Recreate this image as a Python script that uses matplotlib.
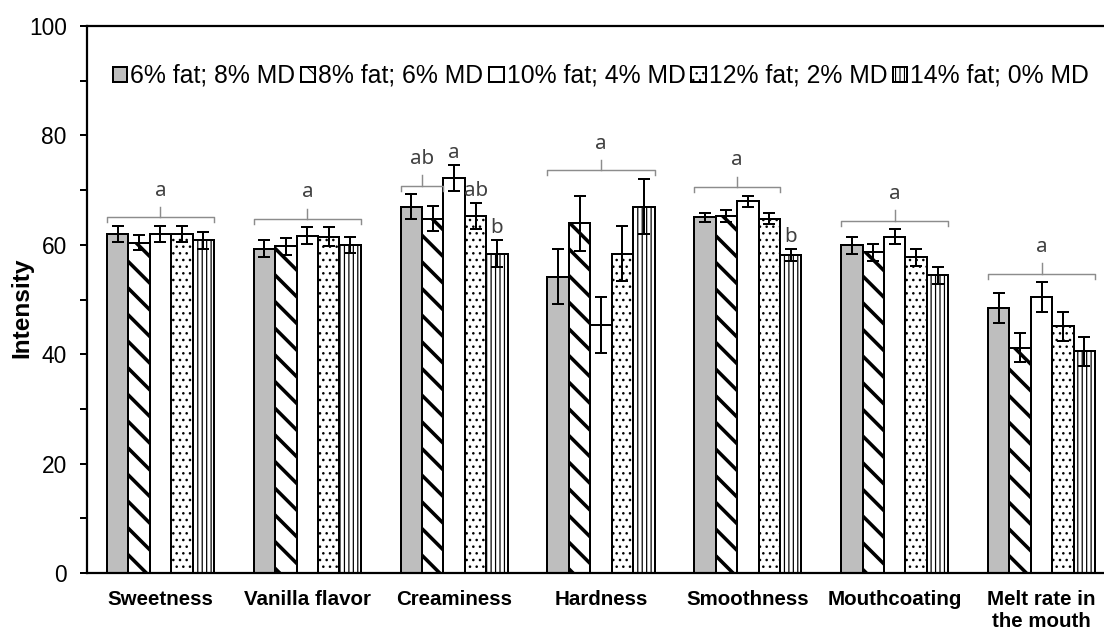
import numpy as np
import matplotlib
matplotlib.use("Agg")
import matplotlib.pyplot as plt

plt.rcParams["font.family"] = ["Liberation Sans", "DejaVu Sans"]

# --- data ---
attributes = ["Sweetness", "Vanilla flavor", "Creaminess", "Hardness",
              "Smoothness", "Mouthcoating", "Melt rate in\nthe mouth"]
formulations = ["6% fat; 8% MD", "8% fat; 6% MD", "10% fat; 4% MD",
                "12% fat; 2% MD", "14% fat; 0% MD"]

fat6 = [62.0, 59.3, 67.0, 54.2, 65.0, 59.9, 48.4]
fat8 = [60.4, 59.7, 64.8, 63.9, 65.2, 58.6, 41.2]
fat10 = [62.0, 61.7, 72.2, 45.4, 68.0, 61.5, 50.5]
fat12 = [62.0, 61.5, 65.2, 58.4, 64.8, 57.7, 45.1]
fat14 = [60.8, 60.0, 58.4, 67.0, 58.2, 54.4, 40.5]

err6 = [1.5, 1.6, 2.3, 5.1, 0.9, 1.5, 2.7]
err8 = [1.4, 1.5, 2.3, 5.0, 1.1, 1.5, 2.7]
err10 = [1.5, 1.5, 2.3, 5.1, 1.0, 1.4, 2.7]
err12 = [1.5, 1.7, 2.4, 5.1, 1.0, 1.5, 2.7]
err14 = [1.5, 1.5, 2.4, 5.1, 1.1, 1.5, 2.7]

# (attribute, first bar, last bar, letter)
brackets = [(0, 0, 4, "a"), (1, 0, 4, "a"), (2, 0, 1, "ab"), (3, 0, 4, "a"),
            (4, 0, 3, "a"), (5, 0, 4, "a"), (6, 0, 4, "a")]
# (attribute, bar, letter)
single_letters = [(2, 2, "a"), (2, 3, "ab"), (2, 4, "b"), (4, 4, "b")]

means = [fat6, fat8, fat10, fat12, fat14]
errs = [err6, err8, err10, err12, err14]

# --- styling ---
fills = ["#BEBEBE", "white", "white", "white", "white"]
hatches = [None, "\\", None, "..", "|||"]
hatch_lws = [1.0, 3.2, 1.0, 1.1, 1.1]
LETTER_COLOR = "#404040"
BRACKET_COLOR = "#8C8C8C"

fig = plt.figure(figsize=(13.8, 7.9), dpi=80)
ax = fig.add_axes([87 / 1104, 59 / 632, 1028 / 1104, 547 / 632])

x = np.arange(len(attributes))
w = 0.146

for i in range(len(formulations)):
    pos = x + (i - 2) * w
    bars = ax.bar(pos, means[i], w, color=fills[i], edgecolor="black",
                  linewidth=1.8, hatch=hatches[i], label=formulations[i],
                  zorder=2)
    for b in bars:
        if hasattr(b, "set_hatch_linewidth"):
            b.set_hatch_linewidth(hatch_lws[i])
    ax.errorbar(pos, means[i], yerr=errs[i], fmt="none", ecolor="black",
                elinewidth=1.8, capsize=5.5, capthick=1.8, zorder=3)

# significance brackets
for k, b0, b1, txt in brackets:
    left = x[k] + (b0 - 2.5) * w
    right = x[k] + (b1 - 1.5) * w
    top = max(means[i][k] + errs[i][k] for i in range(b0, b1 + 1)) + 1.5
    mid = (left + right) / 2
    ax.plot([left, left, right, right], [top - 0.9, top, top, top - 0.9],
            color=BRACKET_COLOR, lw=1.3, zorder=4)
    ax.plot([mid, mid], [top, top + 1.9], color=BRACKET_COLOR, lw=1.3, zorder=4)
    ax.text(mid, top + 4.0, txt, ha="center", va="baseline", fontsize=18.5,
            color=LETTER_COLOR, family=["Noto Sans", "DejaVu Sans"])

for k, b, txt in single_letters:
    ax.text(x[k] + (b - 2) * w, means[b][k] + errs[b][k] + 1.3, txt,
            ha="center", va="baseline", fontsize=18.5, color=LETTER_COLOR,
            family=["Noto Sans", "DejaVu Sans"])

ax.set_xlim(-0.5, 6.5)
ax.set_ylim(0, 100)
ax.set_xticks(x)
ax.set_xticklabels(attributes, fontsize=18.5, fontweight="bold")
ax.tick_params(axis="x", length=0, pad=15)
ax.set_yticks(np.arange(0, 101, 20))
ax.set_yticks(np.arange(10, 100, 20), minor=True)
ax.tick_params(axis="y", which="both", direction="out", length=6.3,
               width=1.8, labelsize=20.5, pad=12)

for side in ["left", "bottom", "top"]:
    ax.spines[side].set_linewidth(2)
ax.spines["right"].set_visible(False)

ax.set_ylabel("Intensity", fontsize=22, fontweight="bold")
ax.yaxis.set_label_coords((33 - 87) / 1028, (573 - 308) / 547)

ax.legend(loc="center", bbox_to_anchor=((601 - 87) / 1028, (573 - 76) / 547),
          ncol=5, frameon=False, fontsize=22.3, handlelength=0.57,
          handleheight=0.57, handletextpad=0.12, columnspacing=0.25,
          borderaxespad=0, borderpad=0)

fig.savefig("out.png", dpi=80, facecolor="white")
